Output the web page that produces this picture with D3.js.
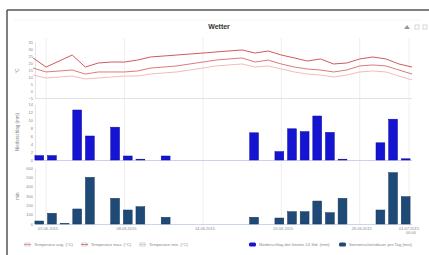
<!DOCTYPE html>
<html>
<head>
<meta charset="utf-8">
<script src="https://cdn.jsdelivr.net/npm/d3@7"></script>
<style>
  body { margin: 0; background: #fff; }
  svg { display: block; font-family: "Liberation Sans", Arial, sans-serif; }
</style>
</head>
<body>
<div id="chart"></div>
<script>
// daily weather, one month
const days = ['01.06.', '02.06.', '03.06.', '04.06.', '05.06.', '06.06.', '07.06.', '08.06.', '09.06.', '10.06.',
  '11.06.', '12.06.', '13.06.', '14.06.', '15.06.', '16.06.', '17.06.', '18.06.', '19.06.', '20.06.',
  '21.06.', '22.06.', '23.06.', '24.06.', '25.06.', '26.06.', '27.06.', '28.06.', '29.06.', '30.06.'];

const tempMax = [23.6, 17.1, 21.4, 25.7, 17.1, 20.0, 20.7, 20.7, 22.1, 24.3, 25.0, 25.7, 26.4, 27.1, 27.9,
  28.6, 29.3, 27.1, 28.6, 25.7, 23.6, 21.4, 22.9, 19.3, 20.0, 22.9, 24.3, 22.9, 19.3, 17.1];
const tempAvg = [16.4, 13.6, 14.3, 15.0, 12.1, 13.6, 13.6, 13.6, 14.3, 16.4, 17.1, 17.9, 19.3, 20.7, 22.1,
  22.9, 23.6, 20.7, 22.1, 19.3, 17.1, 15.7, 15.0, 13.6, 15.0, 17.9, 18.6, 17.9, 15.0, 12.1];
const tempMin = [11.4, 9.3, 10.0, 10.7, 8.6, 9.3, 10.0, 10.7, 10.7, 12.1, 12.9, 13.6, 15.0, 16.4, 17.9,
  18.6, 19.3, 17.1, 17.9, 15.7, 13.6, 12.1, 11.4, 10.0, 11.4, 13.6, 14.3, 13.6, 10.7, 7.9];
const rain = [1.1, 1.1, 0, 12.5, 6.0, 0, 8.2, 1.0, 0.2, 0, 1.0, 0, 0, 0, 0,
  0, 0, 6.8, 0, 2.1, 7.8, 7.1, 11.0, 6.9, 0.2, 0, 0, 4.3, 10.2, 0.3];
const sun = [32, 115, 5, 161, 500, 0, 275, 150, 185, 0, 72, 0, 0, 0, 0,
  0, 0, 72, 0, 64, 132, 132, 246, 121, 275, 0, 0, 150, 550, 293];

const tickDays = [1, 7, 13, 19, 25];
const tickLabels = ['02.06.2015', '08.06.2015', '14.06.2015', '20.06.2015', '26.06.2015'];
const tempTicks = [-5, 0, 5, 10, 15, 20, 25, 30, 35];
const rainTicks = [0, 2, 4, 6, 8, 10, 12, 14];
const sunTicks = [0, 100, 200, 300, 400, 500, 600];

const legendItems = [
  { text: 'Temperatur avg. (°C)', color: '#e07878', type: 'line', x: 25 },
  { text: 'Temperatur max. (°C)', color: '#d05a5a', type: 'line', x: 82 },
  { text: 'Temperatur min. (°C)', color: '#f2bcbc', type: 'line', x: 140 },
  { text: 'Niederschlag der letzten 24 Std. (mm)', color: '#1414d2', type: 'bar', x: 249 },
  { text: 'Sonnenscheindauer pro Tag (min)', color: '#1f4a78', type: 'bar', x: 339 }
];

const W = 429, H = 255;
const left = 35, right = 412;

const svg = d3.select('#chart').append('svg')
  .attr('width', W)
  .attr('height', H);

// outer frame (top and left edges visible)
svg.append('line').attr('x1', 7).attr('y1', 10).attr('x2', W).attr('y2', 10)
  .attr('stroke', '#555').attr('stroke-width', 1.5);
svg.append('line').attr('x1', 7).attr('y1', 10).attr('x2', 7).attr('y2', H)
  .attr('stroke', '#555').attr('stroke-width', 1.5);
svg.append('line').attr('x1', 14).attr('y1', 20).attr('x2', 420).attr('y2', 20)
  .attr('stroke', '#f4f4f4').attr('stroke-width', 1);

// title
svg.append('text')
  .attr('x', 219)
  .attr('y', 29)
  .attr('text-anchor', 'middle')
  .style('font-size', '7px')
  .style('font-weight', 'bold')
  .style('fill', '#333')
  .text('Wetter');

// small toolbar glyphs top right
svg.append('path').attr('d', 'M404,29 L407,25 L410,29 Z').attr('fill', '#999');
svg.append('rect').attr('x', 415).attr('y', 25).attr('width', 4).attr('height', 4)
  .attr('fill', 'none').attr('stroke', '#ccc').attr('stroke-width', 0.8);
svg.append('rect').attr('x', 423).attr('y', 25).attr('width', 4).attr('height', 4)
  .attr('fill', 'none').attr('stroke', '#ccc').attr('stroke-width', 0.8);

// scales
const xLine = d3.scaleLinear().domain([0, days.length - 1]).range([33, right]);
const xBar = d3.scaleBand().domain(days).range([33, right]).paddingInner(0.3).paddingOuter(0.15);
const yTemp = d3.scaleLinear().domain([-5, 35]).range([98, 42]);
const yRain = d3.scaleLinear().domain([0, 14]).range([160, 104]);
const ySun = d3.scaleLinear().domain([0, 600]).range([224, 168]);

// vertical grid lines
svg.append('g').selectAll('line')
  .data(tickDays)
  .enter()
  .append('line')
  .attr('x1', d => xLine(d)).attr('x2', d => xLine(d))
  .attr('y1', 38).attr('y2', 226)
  .attr('stroke', '#eeeeee').attr('stroke-width', 1);
svg.append('line').attr('x1', 409).attr('x2', 409).attr('y1', 38).attr('y2', 226)
  .attr('stroke', '#f0f0f0');

// y axes
const drawYAxis = (scale, ticks, title, titleY) => {
  const g = svg.append('g').attr('transform', `translate(${left},0)`);
  g.call(d3.axisLeft(scale).tickValues(ticks).tickSize(0).tickPadding(2));
  g.select('.domain').attr('stroke', '#e4e4e4');
  g.selectAll('text').style('font-size', '4px').style('fill', '#888')
    .style('font-family', '"Liberation Sans", Arial, sans-serif');
  svg.append('text')
    .attr('transform', `translate(19,${titleY}) rotate(-90)`)
    .attr('text-anchor', 'middle')
    .style('font-size', '4.5px')
    .style('fill', '#888')
    .text(title);
};
drawYAxis(yTemp, tempTicks, '°C', 71);
drawYAxis(yRain, rainTicks, 'Niederschlag (mm)', 132);
drawYAxis(ySun, sunTicks, 'min', 196);

// pane base lines
const baseLine = (y, color) => svg.append('line')
  .attr('x1', left).attr('x2', right).attr('y1', y).attr('y2', y)
  .attr('stroke', color).attr('stroke-width', 1);
baseLine(yTemp(-5) + 0.5, '#e2e2e2');
baseLine(yRain(0) + 0.5, '#ccd0f0');
baseLine(ySun(0) + 0.5, '#ccd6eb');

// temperature lines
const line = scale => d3.line().x((d, i) => xLine(i)).y(d => scale(d));
const tempSeries = [
  { values: tempMin, color: '#f2bcbc' },
  { values: tempAvg, color: '#e07878' },
  { values: tempMax, color: '#d05a5a' }
];
for (const s of tempSeries) {
  svg.append('path')
    .datum(s.values)
    .attr('d', line(yTemp))
    .attr('fill', 'none')
    .attr('stroke', s.color)
    .attr('stroke-width', 1)
    .attr('stroke-linejoin', 'round');
}

// precipitation bars
svg.append('g').selectAll('rect')
  .data(days.map((day, i) => ({ day, v: rain[i] })).filter(d => d.v > 0))
  .enter()
  .append('rect')
  .attr('x', d => xBar(d.day))
  .attr('width', xBar.bandwidth())
  .attr('y', d => yRain(d.v))
  .attr('height', d => yRain(0) - yRain(d.v))
  .attr('fill', '#1414d2')
  .attr('stroke', '#0a0aa0')
  .attr('stroke-width', 0.5);

// sunshine bars
svg.append('g').selectAll('rect')
  .data(days.map((day, i) => ({ day, v: sun[i] })).filter(d => d.v > 0))
  .enter()
  .append('rect')
  .attr('x', d => xBar(d.day))
  .attr('width', xBar.bandwidth())
  .attr('y', d => ySun(d.v))
  .attr('height', d => ySun(0) - ySun(d.v))
  .attr('fill', '#1f4a78')
  .attr('stroke', '#14365c')
  .attr('stroke-width', 0.5);

// x axis labels
svg.append('g').selectAll('text')
  .data(tickDays)
  .enter()
  .append('text')
  .attr('x', d => xLine(d) + 2)
  .attr('y', 230)
  .attr('text-anchor', 'middle')
  .style('font-size', '4px')
  .style('fill', '#888')
  .text((d, i) => tickLabels[i]);
svg.append('text')
  .attr('x', 409).attr('y', 230)
  .attr('text-anchor', 'middle')
  .style('font-size', '4px').style('fill', '#888')
  .text('01.07.2015');
svg.append('text')
  .attr('x', 411).attr('y', 234)
  .attr('text-anchor', 'middle')
  .style('font-size', '4px').style('fill', '#888')
  .text('00:00');

// legend
const legend = svg.append('g');
for (const item of legendItems) {
  if (item.type === 'line') {
    legend.append('rect')
      .attr('x', item.x).attr('y', 243)
      .attr('width', 5).attr('height', 3)
      .attr('fill', 'none')
      .attr('stroke', '#bbb').attr('stroke-width', 0.6);
    legend.append('line')
      .attr('x1', item.x - 1).attr('x2', item.x + 6)
      .attr('y1', 244.5).attr('y2', 244.5)
      .attr('stroke', item.color).attr('stroke-width', 0.8);
  } else {
    legend.append('rect')
      .attr('x', item.x).attr('y', 242.5)
      .attr('width', 7).attr('height', 4)
      .attr('rx', 1.5)
      .attr('fill', item.color);
  }
  legend.append('text')
    .attr('x', item.x + (item.type === 'line' ? 9 : 10))
    .attr('y', 244.5)
    .attr('dominant-baseline', 'central')
    .style('font-size', '4.2px')
    .style('fill', '#888')
    .text(item.text);
}
</script>
</body>
</html>
